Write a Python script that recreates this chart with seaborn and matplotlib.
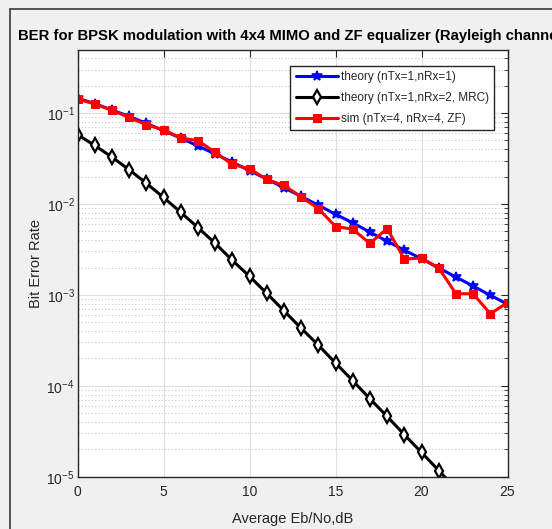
import matplotlib
matplotlib.use('Agg')
import numpy as np
import pandas as pd
import matplotlib.pyplot as plt
import seaborn as sns
from matplotlib.lines import Line2D
from matplotlib.ticker import FixedLocator, FuncFormatter, LogLocator, NullFormatter

# Eb/No em dB
ebno = list(range(0, 26))

# teoria Rayleigh 1x1
ber_theory_1x1 = [0.146, 0.127, 0.108, 0.092, 0.077, 0.064, 0.053, 0.0435, 0.0355, 0.0288,
                  0.0233, 0.0188, 0.0151, 0.0121, 0.0097, 0.0077, 0.0062, 0.0049, 0.0039, 0.0031,
                  0.0025, 0.00198, 0.00157, 0.00125, 0.00099, 0.00079]

# teoria MRC 1x2
ber_theory_mrc = [0.058, 0.044, 0.0328, 0.0238, 0.0169, 0.0118, 0.0081, 0.0055, 0.0037, 0.0024,
                  0.0016, 0.00104, 0.00067, 0.00043, 0.00028, 0.000178, 0.000114, 7.2e-5, 4.6e-5, 2.9e-5,
                  1.85e-5, 1.17e-5, 7.4e-6, 4.7e-6, 3.0e-6, 1.9e-6]

# simulacao 4x4 ZF
ber_sim_zf = [0.142, 0.126, 0.107, 0.0895, 0.0744, 0.0656, 0.0532, 0.0497, 0.0371, 0.0272,
              0.0244, 0.0186, 0.0160, 0.0120, 0.0089, 0.00565, 0.00528, 0.00368, 0.00537, 0.00248,
              0.00254, 0.00198, 0.00103, 0.00103, 0.00062, 0.00082]

labels = ['theory (nTx=1,nRx=1)', 'theory (nTx=1,nRx=2, MRC)', 'sim (nTx=4, nRx=4, ZF)']

df = pd.DataFrame({'ebno': ebno, 'th1': ber_theory_1x1, 'mrc': ber_theory_mrc, 'zf': ber_sim_zf})

sns.set_style('white')
plt.rcParams['font.family'] = ['Liberation Sans', 'DejaVu Sans']
plt.rcParams['mathtext.fontset'] = 'custom'
plt.rcParams['mathtext.rm'] = 'Liberation Sans'

fig = plt.figure(figsize=(5.52, 5.29), dpi=100, facecolor='#f0f0f0')
ax = fig.add_axes([77.5 / 552, 1 - 476.7 / 529, 430 / 552, 427.2 / 529])
ax.set_facecolor('white')

sns.lineplot(data=df, x='ebno', y='th1', color='#0000ff', linewidth=2.2, marker='*',
             markersize=7.5, markeredgewidth=1.2, markeredgecolor='#0000ff', label=labels[0], ax=ax)
sns.lineplot(data=df, x='ebno', y='mrc', color='black', linewidth=2.2, marker='d',
             markersize=7, markeredgewidth=1.6, markerfacecolor='white', markeredgecolor='black',
             label=labels[1], ax=ax)
sns.lineplot(data=df, x='ebno', y='zf', color='#ff0000', linewidth=2.2, marker='s',
             markersize=6, markeredgecolor='#ff0000', label=labels[2], ax=ax)

ax.set_yscale('log')
ax.set_xlim(0, 25)
ax.set_ylim(1e-5, 0.5)
ax.set_xticks([0, 5, 10, 15, 20, 25])
ax.yaxis.set_major_locator(FixedLocator([1e-5, 1e-4, 1e-3, 1e-2, 1e-1]))
ax.yaxis.set_major_formatter(FuncFormatter(lambda v, p: r'$\mathregular{10^{%d}}$' % round(np.log10(v))))
ax.yaxis.set_minor_locator(LogLocator(base=10, subs=np.arange(2, 10), numticks=20))
ax.yaxis.set_minor_formatter(NullFormatter())

ax.grid(True, which='major', color='#dedede', linewidth=0.8, linestyle='-')
ax.grid(True, which='minor', axis='y', color='#c8c8c8', linewidth=0.8, linestyle=(0, (1, 2)))

for s in ax.spines.values():
    s.set_color('#262626')
    s.set_linewidth(1.0)
ax.tick_params(axis='both', which='both', direction='in', top=True, right=True, colors='#262626',
               labelsize=10, labelcolor='#262626')
ax.tick_params(axis='both', which='major', length=5)
ax.tick_params(axis='y', which='minor', length=3)
ax.tick_params(axis='x', pad=6)
ax.tick_params(axis='y', pad=2)

ax.set_xlabel('Average Eb/No,dB', fontsize=10.5, color='#262626')
ax.set_ylabel('Bit Error Rate', fontsize=10.5, color='#262626')
ax.xaxis.set_label_coords(0.5, -0.083)
ax.yaxis.set_label_coords(-0.080, 0.5)

# titulo cortado na borda direita, como na referencia
ax.set_title('BER for BPSK modulation with 4x4 MIMO and ZF equalizer (Rayleigh channel)',
             fontsize=10.7, fontweight='bold', color='black', pad=7)

leg = ax.legend(loc='upper right', bbox_to_anchor=(0.9686, 0.9614), fontsize=8.5, frameon=True,
                fancybox=False, framealpha=1, edgecolor='#262626', handlelength=3.6,
                borderaxespad=0, handletextpad=0.2, labelspacing=0.75, borderpad=0.45)
leg.get_frame().set_linewidth(1.0)

# moldura da janela
fig.add_artist(Line2D([10 / 552, 10 / 552], [0, 1 - 9 / 529], color='#3c3c3c', linewidth=1.2))
fig.add_artist(Line2D([10 / 552, 1], [1 - 9 / 529, 1 - 9 / 529], color='#3c3c3c', linewidth=1.2))

plt.savefig('out.png', dpi=100, facecolor=fig.get_facecolor())
